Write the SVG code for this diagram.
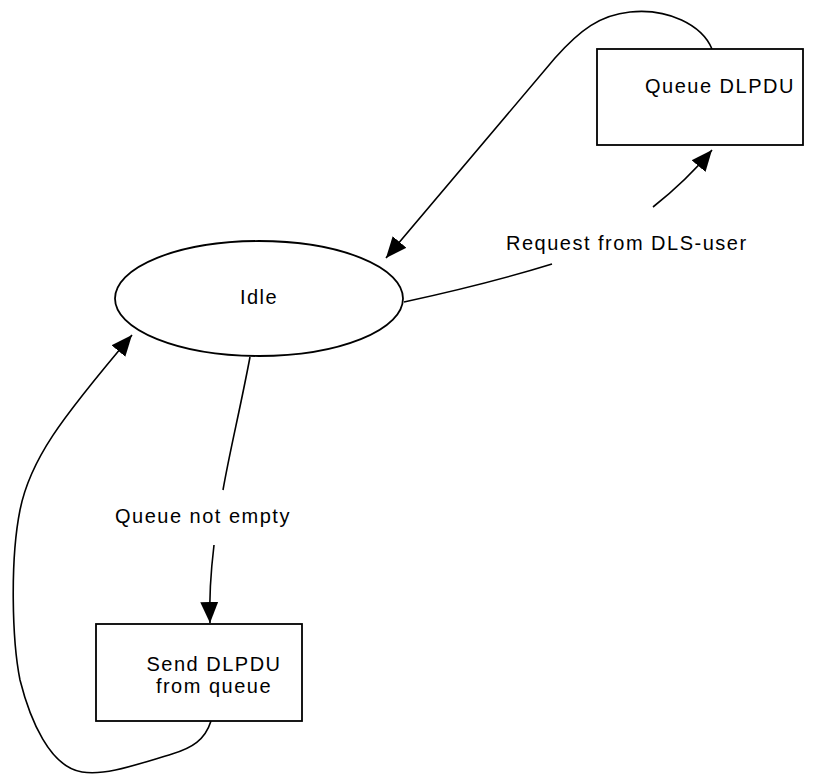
<svg xmlns="http://www.w3.org/2000/svg" width="838" height="774" viewBox="0 0 838 774">
<style>
.shape{fill:#fff;stroke:#000;stroke-width:1.8}
.conn{fill:none;stroke:#000;stroke-width:1.6}
text{font-family:"Liberation Sans",Arial,sans-serif;font-size:20px;letter-spacing:1.5px;fill:#000}
</style>
<defs>
<marker id="arr" markerUnits="userSpaceOnUse" markerWidth="22" markerHeight="20" refX="21" refY="9" orient="auto" viewBox="0 0 22 18">
<path d="M0,0 L21,9 L0,18 z" fill="#000"/>
</marker>
</defs>
<rect width="838" height="774" fill="#fff"/>
<g id="connectors">
<path class="conn" d="M404,302 C450,292 510,277 552,264"/>
<path class="conn" d="M653,207 C672,192 692,174 712,150" marker-end="url(#arr)"/>
<path class="conn" d="M712,49 C702,25 668,8 630,12 C600,15 580,30 555,58 L386,258" marker-end="url(#arr)"/>
<path class="conn" d="M250,357 C240,410 230,450 223,490"/>
<path class="conn" d="M214,545 C211,570 209,595 210,623" marker-end="url(#arr)"/>
<path class="conn" d="M211,721 C205,740 192,748 172,754 C135,765 105,776 82,772 C50,767 30,720 20,680 C12,640 10,560 20,510 C30,460 60,420 132,335" marker-end="url(#arr)"/>
<text x="506" y="250">Request from DLS-user</text>
<text x="115" y="523">Queue not empty</text>
</g>
<g id="idle">
<ellipse class="shape" cx="259" cy="298.5" rx="144" ry="57.5"/>
<text x="259" y="304" text-anchor="middle">Idle</text>
</g>
<g id="queue-dlpdu">
<rect class="shape" x="597" y="49" width="206" height="96"/>
<text x="645" y="93">Queue DLPDU</text>
</g>
<g id="send-dlpdu">
<rect class="shape" x="96" y="624" width="206" height="97"/>
<text x="214" y="671" text-anchor="middle">Send DLPDU</text>
<text x="214" y="693" text-anchor="middle">from queue</text>
</g>
</svg>
